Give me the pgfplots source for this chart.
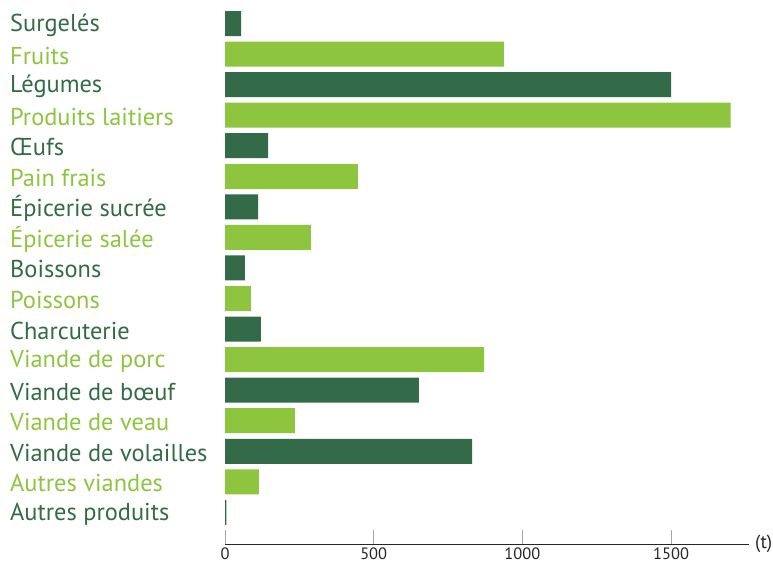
\documentclass[border=0pt]{standalone}
\usepackage{fontspec}
\setmainfont{PT Sans}
\usepackage{pgfplots}
\pgfplotsset{compat=1.18}
\definecolor{dg}{HTML}{336B48}
\definecolor{lg}{HTML}{8DC53F}
\begin{document}
\begin{tikzpicture}
\path[use as bounding box] (0,0) rectangle (773bp,564bp);
\begin{axis}[at={(225bp,20bp)}, anchor=south west, scale only axis,
  width=524bp, height=538.8bp,
  xmin=0, xmax=1762, ymin=-1.035, ymax=16.6,
  axis x line=bottom, axis y line=left,
  x axis line style={-, black!85, line width=0.8bp},
  y axis line style={draw=none},
  xtick={500,1000,1500}, extra x ticks={0}, extra x tick style={tick style={black!85}},
  tick align=inside, major tick length=14bp,
  xtick style={gray!70, line width=1bp},
  ytick={0,...,16}, ytick style={draw=none},
  yticklabels={\textcolor{dg}{Autres produits},\textcolor{lg}{Autres viandes},\textcolor{dg}{Viande de volailles},\textcolor{lg}{Viande de veau},\textcolor{dg}{Viande de bœuf},\textcolor{lg}{Viande de porc},\textcolor{dg}{Charcuterie},\textcolor{lg}{Poissons},\textcolor{dg}{Boissons},\textcolor{lg}{Épicerie salée},\textcolor{dg}{Épicerie sucrée},\textcolor{lg}{Pain frais},\textcolor{dg}{Œufs},\textcolor{lg}{Produits laitiers},\textcolor{dg}{Légumes},\textcolor{lg}{Fruits},\textcolor{dg}{Surgelés}},
  yticklabel style={anchor=west, inner sep=0pt, xshift=-215bp, yshift=-1.5bp, font=\fontsize{24.5}{24.5}\selectfont},
  xticklabel style={font=\fontsize{16.5}{16.5}\selectfont, text=black!85, anchor=north, inner sep=0pt, yshift=-3.5bp},
  /pgf/number format/assume math mode=true,
  /pgf/number format/set thousands separator={},
  xlabel={(t)}, xlabel style={at={(rel axis cs:1,0)}, anchor=west, inner sep=0pt, xshift=6bp, font=\fontsize{19}{19}\selectfont, text=black!85},
  clip=false]
\addplot[xbar, bar width=25bp, bar shift=0pt, fill=dg, draw=none] coordinates {
 (5,0) (831,2) (652,4) (121,6) (67,8) (111,10) (145,12) (1500,14) (54,16)};
\addplot[xbar, bar width=25bp, bar shift=0pt, fill=lg, draw=none] coordinates {
 (114,1) (235,3) (871,5) (87,7) (289,9) (447,11) (1700,13) (938,15)};
\end{axis}
\end{tikzpicture}
\end{document}
